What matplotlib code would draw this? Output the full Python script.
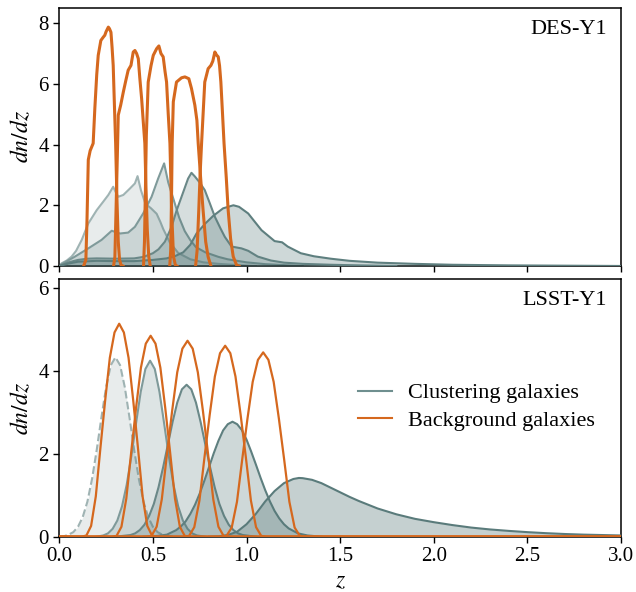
import numpy as np
import matplotlib
matplotlib.use("Agg")
import matplotlib.pyplot as plt
from matplotlib.lines import Line2D

plt.rcParams['font.family'] = 'serif'
plt.rcParams['font.serif'] = ['Liberation Serif', 'DejaVu Serif']
plt.rcParams['mathtext.fontset'] = 'stix'

# ---------------- DES-Y1 (top panel) ----------------
# clustering (lens) redshift distributions
des_lens_z = [
    [0.0, 0.013, 0.04, 0.066, 0.09, 0.12, 0.155, 0.2, 0.235, 0.262, 0.288, 0.3, 0.315, 0.342, 0.377,
     0.404, 0.418, 0.436, 0.46, 0.49, 0.52, 0.54, 0.555, 0.59, 0.635, 0.7, 0.77, 0.85, 0.95, 1.05],
    [0.0, 0.013, 0.084, 0.155, 0.226, 0.28, 0.3, 0.324, 0.368, 0.404, 0.448, 0.493, 0.528, 0.56,
     0.582, 0.61, 0.64, 0.67, 0.7, 0.73, 0.78, 0.85, 0.9, 1.0, 1.1, 1.3],
    [0.0, 0.05, 0.1, 0.15, 0.2, 0.3, 0.4, 0.45, 0.5, 0.53, 0.564, 0.6, 0.625, 0.653, 0.688, 0.706,
     0.724, 0.75, 0.777, 0.805, 0.831, 0.86, 0.884, 0.92, 0.973, 1.009, 1.06, 1.13, 1.2, 1.3, 1.45,
     1.6, 1.8],
    [0.0, 0.05, 0.1, 0.2, 0.3, 0.4, 0.5, 0.573, 0.62, 0.662, 0.7, 0.733, 0.78, 0.822, 0.875, 0.93,
     0.96, 1.009, 1.045, 1.08, 1.15, 1.19, 1.22, 1.29, 1.36, 1.45, 1.55, 1.7, 1.9, 2.1, 2.4, 2.7, 3.0],
]
des_lens_n = [
    [0, 0.09, 0.18, 0.31, 0.5, 0.86, 1.4, 1.84, 2.12, 2.34, 2.61, 2.45, 2.28, 2.34, 2.55,
     2.72, 2.96, 2.5, 2.05, 1.9, 1.72, 1.45, 1.22, 0.78, 0.43, 0.22, 0.12, 0.07, 0.03, 0],
    [0, 0.06, 0.31, 0.58, 0.86, 1.16, 1.12, 1.07, 1.1, 1.29, 1.73, 2.28, 2.88, 3.38,
     2.75, 2.2, 1.6, 1.15, 0.85, 0.62, 0.45, 0.3, 0.22, 0.12, 0.06, 0],
    [0, 0.12, 0.2, 0.24, 0.25, 0.24, 0.25, 0.3, 0.42, 0.55, 0.8, 1.29, 1.8, 2.28, 2.88, 3.07,
     2.95, 2.75, 2.5, 2.05, 1.62, 1.25, 0.96, 0.64, 0.58, 0.5, 0.31, 0.18, 0.11, 0.07, 0.04,
     0.02, 0],
    [0, 0.08, 0.14, 0.17, 0.16, 0.16, 0.2, 0.25, 0.33, 0.45, 0.7, 1.07, 1.4, 1.65, 1.9, 2.0,
     1.95, 1.73, 1.45, 1.18, 0.82, 0.78, 0.64, 0.42, 0.32, 0.24, 0.17, 0.11, 0.07, 0.04, 0.02, 0.01, 0],
]
# background (source) redshift distributions
des_src_z = [
    [0.13, 0.142, 0.148, 0.155, 0.165, 0.175, 0.181, 0.19, 0.2, 0.208, 0.222, 0.235, 0.243, 0.25,
     0.262, 0.268, 0.276, 0.282, 0.288, 0.295, 0.301, 0.308, 0.315, 0.322, 0.33, 0.34],
    [0.29, 0.297, 0.303, 0.31, 0.315, 0.328, 0.342, 0.355, 0.368, 0.383, 0.395, 0.404, 0.413,
     0.422, 0.43, 0.44, 0.448, 0.457, 0.463, 0.47, 0.478, 0.486],
    [0.45, 0.455, 0.46, 0.465, 0.475, 0.49, 0.502, 0.52, 0.532, 0.543, 0.555, 0.565, 0.573,
     0.582, 0.591, 0.6, 0.61, 0.62, 0.628],
    [0.59, 0.595, 0.6, 0.603, 0.609, 0.626, 0.653, 0.671, 0.692, 0.706, 0.724, 0.735, 0.742,
     0.755, 0.768, 0.782, 0.795, 0.81],
    [0.728, 0.736, 0.745, 0.752, 0.76, 0.777, 0.795, 0.81, 0.82, 0.831, 0.84, 0.849, 0.856, 0.863,
     0.872, 0.88, 0.892, 0.902, 0.915, 0.929, 0.947, 0.96],
]
des_src_n = [
    [0, 0.2, 1.5, 3.5, 3.8, 3.95, 4.04, 5.2, 6.3, 6.94, 7.43, 7.54, 7.6, 7.72, 7.87, 7.82, 7.7,
     7.2, 6.61, 5.2, 4.04, 2.2, 0.8, 0.2, 0.03, 0],
    [0, 0.3, 1.8, 3.6, 4.97, 5.3, 5.73, 6.1, 6.45, 6.61, 7.05, 7.1, 7.0, 6.83, 6.2, 5.5, 4.8,
     4.04, 2.6, 1.2, 0.3, 0],
    [0, 0.8, 2.5, 4.3, 6.06, 6.6, 6.94, 7.16, 7.25, 7.0, 6.89, 6.4, 6.06, 5.0, 4.04, 1.84, 0.31,
     0.03, 0],
    [0, 0.5, 2.5, 4.04, 5.41, 6.06, 6.2, 6.23, 6.17, 5.85, 5.3, 4.8, 4.04, 2.9, 1.84, 0.8, 0.3, 0],
    [0, 0.5, 1.84, 3.0, 4.04, 6.06, 6.5, 6.61, 6.75, 7.05, 6.95, 6.89, 6.6, 6.06, 5.0, 4.04, 2.9,
     1.84, 0.9, 0.31, 0.03, 0],
]

# ---------------- LSST-Y1 (bottom panel) ----------------
lsst_lens_z = [
    [0.0, 0.025, 0.05, 0.075, 0.1, 0.125, 0.15, 0.175, 0.2, 0.225, 0.25, 0.275, 0.3, 0.325, 0.35,
     0.375, 0.4, 0.425, 0.45, 0.475, 0.5, 0.525, 0.55, 0.575, 0.625],
    [0.2, 0.235, 0.26, 0.285, 0.31, 0.335, 0.36, 0.385, 0.41, 0.435, 0.46, 0.485, 0.51, 0.535,
     0.56, 0.585, 0.61, 0.635, 0.66, 0.685, 0.71, 0.735, 0.78],
    [0.3, 0.38, 0.405, 0.43, 0.455, 0.48, 0.505, 0.53, 0.555, 0.58, 0.605, 0.63, 0.655, 0.68,
     0.705, 0.73, 0.755, 0.78, 0.805, 0.83, 0.855, 0.88, 0.905, 0.93, 0.955, 0.98, 1.05],
    [0.45, 0.525, 0.575, 0.625, 0.65, 0.675, 0.7, 0.725, 0.75, 0.775, 0.8, 0.825, 0.85, 0.875,
     0.9, 0.925, 0.95, 0.975, 1.0, 1.025, 1.05, 1.075, 1.1, 1.125, 1.15, 1.175, 1.2, 1.225, 1.275,
     1.325, 1.4],
    [0.8, 0.85, 0.9, 0.95, 1.0, 1.05, 1.1, 1.15, 1.2, 1.25, 1.28, 1.3, 1.35, 1.4, 1.45, 1.5, 1.55,
     1.6, 1.7, 1.8, 1.9, 2.0, 2.1, 2.2, 2.3, 2.4, 2.5, 2.6, 2.7, 2.8, 2.9, 3.0],
]
lsst_lens_n = [
    [0, 0.01, 0.05, 0.11, 0.24, 0.47, 0.84, 1.39, 2.09, 2.87, 3.60, 4.13, 4.32, 4.13, 3.60,
     2.87, 2.09, 1.39, 0.84, 0.47, 0.24, 0.11, 0.05, 0.02, 0],
    [0, 0.03, 0.08, 0.19, 0.39, 0.73, 1.25, 1.94, 2.73, 3.49, 4.04, 4.24, 4.04, 3.49,
     2.73, 1.94, 1.25, 0.73, 0.39, 0.19, 0.08, 0.03, 0],
    [0, 0.04, 0.08, 0.16, 0.29, 0.5, 0.79, 1.19, 1.68, 2.22, 2.76, 3.23, 3.55, 3.66,
     3.55, 3.23, 2.76, 2.22, 1.68, 1.19, 0.79, 0.5, 0.29, 0.16, 0.08, 0.04, 0],
    [0, 0.02, 0.05, 0.16, 0.25, 0.37, 0.55, 0.77, 1.04, 1.35, 1.68, 2.01, 2.31, 2.56,
     2.71, 2.77, 2.71, 2.57, 2.34, 2.05, 1.74, 1.42, 1.12, 0.85, 0.62, 0.44, 0.3, 0.2, 0.08,
     0.03, 0],
    [0, 0.01, 0.04, 0.12, 0.3, 0.55, 0.85, 1.1, 1.29, 1.39, 1.415, 1.41, 1.37, 1.29, 1.18, 1.07,
     0.96, 0.86, 0.68, 0.54, 0.43, 0.35, 0.28, 0.22, 0.175, 0.14, 0.11, 0.085, 0.065, 0.05,
     0.04, 0.03],
]
lsst_src_z = [
    [0.0, 0.12, 0.145, 0.17, 0.195, 0.22, 0.245, 0.27, 0.295, 0.32, 0.345, 0.37, 0.395, 0.42,
     0.445, 0.47, 0.495, 0.52, 3.0],
    [0.0, 0.28, 0.306, 0.332, 0.358, 0.384, 0.41, 0.436, 0.462, 0.488, 0.514, 0.54, 0.566, 0.592,
     0.618, 0.644, 0.67, 0.696, 3.0],
    [0.0, 0.465, 0.4925, 0.52, 0.5475, 0.575, 0.6025, 0.63, 0.6575, 0.685, 0.7125, 0.74, 0.7675,
     0.795, 0.8225, 0.85, 0.8775, 0.905, 3.0],
    [0.0, 0.666, 0.6935, 0.721, 0.7485, 0.776, 0.8035, 0.831, 0.8585, 0.886, 0.9135, 0.941,
     0.9685, 0.996, 1.0235, 1.051, 1.0785, 1.106, 3.0],
    [0.0, 0.865, 0.893, 0.921, 0.949, 0.977, 1.005, 1.033, 1.061, 1.089, 1.117, 1.145, 1.173,
     1.201, 1.229, 1.257, 1.285, 1.313, 3.0],
]
lsst_src_n = [
    [0, 0, 0.03, 0.26, 0.97, 2.15, 3.28, 4.31, 4.92, 5.13, 4.92, 4.31, 3.28, 2.15, 0.97, 0.26,
     0.03, 0, 0],
    [0, 0, 0.02, 0.24, 0.92, 2.03, 3.10, 4.07, 4.65, 4.84, 4.65, 4.07, 3.10, 2.03, 0.92, 0.24,
     0.02, 0, 0],
    [0, 0, 0.02, 0.24, 0.90, 1.98, 3.02, 3.96, 4.53, 4.72, 4.53, 3.96, 3.02, 1.98, 0.90, 0.24,
     0.02, 0, 0],
    [0, 0, 0.02, 0.23, 0.87, 1.93, 2.94, 3.86, 4.42, 4.60, 4.42, 3.86, 2.94, 1.93, 0.87, 0.23,
     0.02, 0, 0],
    [0, 0, 0.02, 0.22, 0.84, 1.86, 2.84, 3.73, 4.26, 4.44, 4.26, 3.73, 2.84, 1.86, 0.84, 0.22,
     0.02, 0, 0],
]

x_ticks = [0.0, 0.5, 1.0, 1.5, 2.0, 2.5, 3.0]
x_tick_labels = ['0.0', '0.5', '1.0', '1.5', '2.0', '2.5', '3.0']

# styles
fill_color = '#4f7373'
fill_alpha = [0.13, 0.19, 0.23, 0.28, 0.33]
edge_colors = ['#9fb3b3', '#7f9a9a', '#6a8888', '#5e7f7f', '#5a7b7b']
orange = '#d5681e'

fig = plt.figure(figsize=(6.36, 5.92), dpi=100)
ax_top = fig.add_axes([0.0932, 0.5507, 0.8832, 0.4358])
ax_bot = fig.add_axes([0.0932, 0.0934, 0.8832, 0.4348])


def draw_lens(ax, zs, ns, dashed_first=False, lw=1.5):
    for i, (z, n) in enumerate(zip(zs, ns)):
        ax.fill_between(z, 0, n, color=fill_color, alpha=fill_alpha[i], lw=0, zorder=1 + i)
        ls = '--' if (dashed_first and i == 0) else '-'
        ax.plot(z, n, color=edge_colors[i], lw=lw, ls=ls, zorder=1.5 + i)


draw_lens(ax_top, des_lens_z, des_lens_n)
for z, n in zip(des_src_z, des_src_n):
    ax_top.plot(z, n, color=orange, lw=2.2, zorder=10)

draw_lens(ax_bot, lsst_lens_z, lsst_lens_n, dashed_first=True)
for z, n in zip(lsst_src_z, lsst_src_n):
    ax_bot.plot(z, n, color=orange, lw=1.6, zorder=10)

for ax in (ax_top, ax_bot):
    ax.set_xlim(0, 3)
    ax.set_xticks(x_ticks)
    ax.tick_params(direction='out', length=4, width=1, labelsize=15)
    for sp in ax.spines.values():
        sp.set_linewidth(1.1)
    ax.set_ylabel(r'$dn/dz$', fontsize=17)

ax_top.set_ylim(0, 8.5)
ax_top.set_yticks([0, 2, 4, 6, 8])
ax_top.set_xticklabels([])
ax_bot.set_ylim(0, 6.2)
ax_bot.set_yticks([0, 2, 4, 6])
ax_bot.set_xticklabels(x_tick_labels)
ax_bot.set_xlabel(r'$z$', fontsize=17)

ax_top.text(0.975, 0.955, 'DES-Y1', transform=ax_top.transAxes, ha='right', va='top', fontsize=16)
ax_bot.text(0.975, 0.955, 'LSST-Y1', transform=ax_bot.transAxes, ha='right', va='top', fontsize=16)

handles = [Line2D([], [], color='#6f8f8f', lw=1.5), Line2D([], [], color=orange, lw=1.5)]
ax_bot.legend(handles, ['Clustering galaxies', 'Background galaxies'], loc='center left',
              bbox_to_anchor=(0.496, 0.504), frameon=False, fontsize=16,
              handlelength=1.55, handletextpad=0.7, labelspacing=0.33)

fig.savefig('out.png', dpi=100)
